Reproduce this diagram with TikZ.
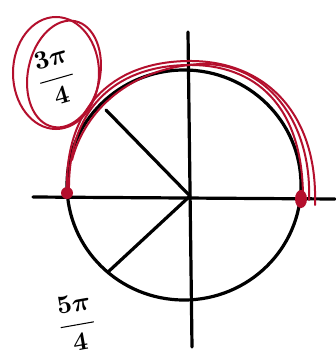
\documentclass[tikz,border=0pt]{standalone}
\usepackage{graphicx}
\begin{document}
\begin{tikzpicture}[x=1pt,y=-1pt,
  ink/.style={line width=3.2pt, black, line cap=round, line join=round},
  redink/.style={line width=2pt, draw={rgb,255:red,180;green,15;blue,45}, line cap=round},
  lbl/.style={inner sep=0pt}]
\definecolor{crim}{RGB}{180,15,45}
\useasboundingbox (0,0) rectangle (335,356);
\fill[white] (0,0) rectangle (335,356);
% key points
\coordinate (O) at (190,196);
\coordinate (L) at (67,193);
\coordinate (R) at (301,199);
\coordinate (axL) at (33,197);
\coordinate (axR) at (335,199);
\coordinate (axT) at (188,32);
\coordinate (axB) at (192,347);
\coordinate (P135) at (106,110);
\coordinate (P225) at (108,272);
% circle
\draw[ink] (184,185) ellipse [x radius=117, y radius=115];
% axes
\draw[ink] (axL) -- (axR);
\draw[ink] (axT) -- (axB);
% radial lines
\draw[ink] (O) -- (P135);
\draw[ink] (O) -- (P225);
% red arc strokes
\draw[redink] (L) .. controls (64,110) and (110,62) .. (188,61) .. controls (262,60) and (318,110) .. (315,205);
\draw[redink] (69,190) .. controls (68,112) and (112,66) .. (188,65) .. controls (255,64) and (303,105) .. (303,198);
\draw[redink] (72,160) .. controls (85,110) and (130,68) .. (200,64) .. controls (265,62) and (312,120) .. (309,200);
% red dots
\fill[crim] (L) circle (6);
\fill[crim] (R) ellipse [x radius=6, y radius=9];
% red loops around the label
\draw[redink] (56,73) ellipse [x radius=43, y radius=56];
\draw[redink, rotate around={-12:(64,74)}] (64,74) ellipse [x radius=36, y radius=54];
% labels
\node[lbl] (a) at (56,77) {\rotatebox{16}{\scalebox{2.6}{\boldmath$\displaystyle\frac{3\pi}{4}$}}};
\node[lbl] (b) at (77,323) {\rotatebox{10}{\scalebox{2.6}{\boldmath$\displaystyle\frac{5\pi}{4}$}}};
\end{tikzpicture}
\end{document}
